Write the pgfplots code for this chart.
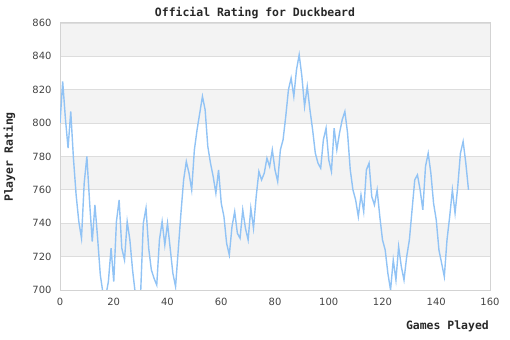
\documentclass[border=0pt]{standalone}
\usepackage{pgfplots}
\pgfplotsset{compat=1.18}
\usepackage{fontspec}
\setmainfont{DejaVu Sans}
\newfontfamily\monob{DejaVu Sans Mono}
\definecolor{linec}{RGB}{145,195,245}
\definecolor{bandc}{RGB}{243,243,243}
\definecolor{gridc}{RGB}{221,221,221}
\definecolor{axc}{RGB}{211,211,211}
\definecolor{txt}{RGB}{68,68,68}
\definecolor{ttl}{RGB}{40,40,40}
\begin{document}
\begin{tikzpicture}
\begin{axis}[
  scale only axis,
  width=430bp, height=267bp,
  xmin=0, xmax=160, ymin=700, ymax=860,
  xtick={0,20,...,160}, ytick={700,720,...,860},
  ymajorgrids, major grid style={gridc, line width=0.8bp},
  axis line style={axc, line width=1bp},
  major tick length=0pt,
  tick label style={font=\fontsize{10}{12}\selectfont, text=txt},
  /pgf/number format/assume math mode=true,
  xticklabel style={yshift=-5bp},
  yticklabel style={xshift=-5bp},
  set layers,
]
\addplot[linec, line width=1.4bp, no marks] coordinates {
(0,800)(1,825)(2,803)(3,785)(4,807)(5,779)(6,757)(7,741)(8,731)(9,764)
(10,780)(11,753)(12,729)(13,751)(14,731)(15,709)(16,698)(17,696)(18,705)(19,725)
(20,705)(21,741)(22,754)(23,725)(24,718)(25,741)(26,730)(27,712)(28,698)(29,696)
(30,698)(31,740)(32,749)(33,725)(34,712)(35,707)(36,703)(37,730)(38,741)(39,727)
(40,740)(41,725)(42,710)(43,702)(44,724)(45,746)(46,766)(47,777)(48,770)(49,760)
(50,784)(51,796)(52,806)(53,816)(54,808)(55,786)(56,776)(57,768)(58,758)(59,772)
(60,752)(61,744)(62,728)(63,721)(64,738)(65,747)(66,734)(67,731)(68,748)(69,737)
(70,730)(71,749)(72,737)(73,756)(74,771)(75,766)(76,770)(77,779)(78,774)(79,784)
(80,772)(81,765)(82,784)(83,790)(84,804)(85,820)(86,827)(87,816)(88,832)(89,841)
(90,828)(91,810)(92,822)(93,808)(94,796)(95,782)(96,776)(97,773)(98,790)(99,797)
(100,778)(101,771)(102,797)(103,784)(104,794)(105,802)(106,807)(107,794)(108,772)(109,760)
(110,754)(111,744)(112,757)(113,747)(114,772)(115,776)(116,756)(117,751)(118,760)(119,744)
(120,730)(121,724)(122,710)(123,700)(124,718)(125,706)(126,726)(127,714)(128,706)(129,720)
(130,730)(131,748)(132,766)(133,769)(134,760)(135,748)(136,774)(137,782)(138,770)(139,752)
(140,742)(141,724)(142,716)(143,708)(144,730)(145,744)(146,760)(147,746)(148,762)(149,782)
(150,789)(151,776)(152,760)
};
\begin{pgfonlayer}{axis background}
\fill[bandc] (axis cs:0,840) rectangle (axis cs:160,860);
\fill[bandc] (axis cs:0,800) rectangle (axis cs:160,820);
\fill[bandc] (axis cs:0,760) rectangle (axis cs:160,780);
\fill[bandc] (axis cs:0,720) rectangle (axis cs:160,740);
\end{pgfonlayer}
\end{axis}
\node[font=\monob\bfseries\fontsize{11.5}{13}\selectfont, text=ttl] at (195bp,277bp) {Official Rating for Duckbeard};
\node[font=\monob\bfseries\fontsize{11.5}{13}\selectfont, text=ttl, anchor=east, inner sep=0pt] at (429bp,-36bp) {Games Played};
\node[font=\monob\bfseries\fontsize{11.5}{13}\selectfont, text=ttl, rotate=90] at (-50.5bp,133bp) {Player Rating};
\path (-60bp,-50bp) rectangle (450bp,290bp);
\end{tikzpicture}
\end{document}
